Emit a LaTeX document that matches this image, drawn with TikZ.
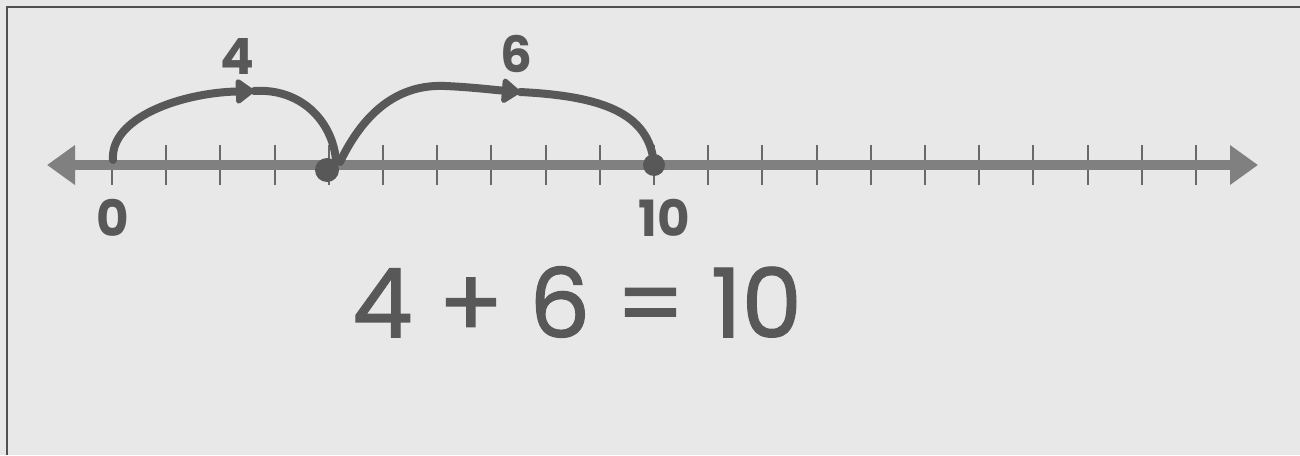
\documentclass[tikz,border=0pt]{standalone}
\usepackage{fontspec}
\setmainfont{Poppins}
\newfontfamily\eqfont[FakeBold=1.3]{Poppins}
\usetikzlibrary{arrows.meta}
\definecolor{paper}{RGB}{232,232,232}
\definecolor{framecol}{RGB}{80,80,80}
\definecolor{linecol}{RGB}{128,128,128}
\definecolor{tickcol}{RGB}{105,105,105}
\definecolor{inkcol}{RGB}{88,88,88}
\tikzset{
  framestyle/.style={draw=framecol, line width=2.2pt},
  numline/.style={draw=linecol, line width=10pt,
    {Triangle[length=28pt,width=38pt]}-{Triangle[length=28pt,width=38pt]}},
  tickstyle/.style={draw=tickcol, line width=2pt},
  jump/.style={draw=inkcol, line width=8pt, line cap=round},
  jumptip/.style={jump, -{Triangle[length=20pt,width=28pt,round]}},
  inkdot/.style={fill=inkcol},
  smalllabel/.style={text=inkcol, font=\fontsize{50}{50}\selectfont\bfseries, inner sep=0pt},
  eqlabel/.style={text=inkcol, font=\fontsize{96}{96}\selectfont\eqfont, inner sep=0pt}
}
\begin{document}
\begin{tikzpicture}[x=1pt,y=-1pt]
\useasboundingbox (0,0) rectangle (1300,455);
\fill[paper] (0,0) rectangle (1300,455);
\coordinate (fa) at (7,455);
\coordinate (fb) at (7,7);
\coordinate (fc) at (1300,7);
\draw[framestyle] (fa) -- (fb) -- (fc);
% number line
\coordinate (lend) at (47,165);
\coordinate (rend) at (1258,165);
\foreach \i in {0,...,20} {
  \coordinate (t\i) at ({112+54.2*\i},165);
  \draw[tickstyle] ([yshift=-20pt]t\i) -- ([yshift=20pt]t\i);
}
\draw[numline] (lend) -- (rend);
% jump 1
\coordinate (j1s) at (113,160);
\coordinate (m1) at (254,91);
\coordinate (j1e) at (336,160);
\draw[jumptip] (j1s) .. controls (110,118) and (180,93) .. (m1);
\draw[jump] (m1) .. controls (300,88) and (332,120) .. (j1e);
\fill[inkdot] (327,170) circle (12pt);
% jump 2
\coordinate (j2s) at (340,162);
\coordinate (m2) at (520,92);
\draw[jumptip] (j2s) .. controls (365,110) and (400,84) .. (445,86) .. controls (470,87) and (495,90) .. (m2);
\draw[jump] (m2) .. controls (600,96) and (650,112) .. (t10);
\fill[inkdot] (t10) circle (11pt);
% labels
\node[smalllabel] (lab4) at (237,56) {4};
\node[smalllabel] (lab6) at (516,54) {6};
\node[smalllabel] (lab0) at (113,218) {0};
\node[smalllabel] (lab10) at (664,218) {10};
\node[eqlabel] (eq) at (577,302) {4 + 6 = 10};
\end{tikzpicture}
\end{document}
